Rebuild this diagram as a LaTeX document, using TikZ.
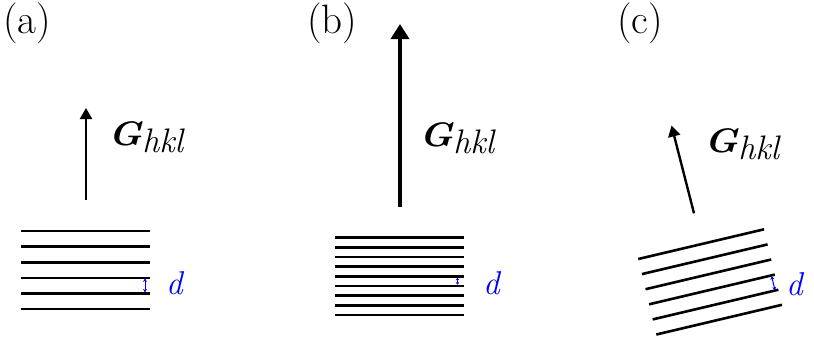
\documentclass[tikz,border=0pt]{standalone}
\usetikzlibrary{arrows.meta}
\tikzset{
  panellabel/.style={anchor=base west,inner sep=0pt,font=\fontsize{41}{41}\selectfont},
  glabel/.style={anchor=base west,inner sep=0pt,font=\fontsize{34}{34}\selectfont},
  dlabel/.style={anchor=base west,inner sep=0pt,text=blue,font=\fontsize{33}{33}\selectfont\itshape},
  plane/.style={line width=2.6pt},
  gvec/.style={line width=2.4pt,-{Triangle[length=11pt,width=12pt]}},
  gvecbig/.style={line width=3.6pt,-{Triangle[length=15pt,width=18pt]}},
  dvec/.style={blue,line width=1pt,{Stealth[length=3.5pt,width=4pt]}-{Stealth[length=3.5pt,width=4pt]}}
}
\newcommand{\Ghkl}{\scalebox{1.12}[1]{\bfseries\itshape G}\raisebox{-7pt}{\itshape hkl}}
\begin{document}
\begin{tikzpicture}[x=1pt,y=-1pt]
\useasboundingbox (0,0) rectangle (814,341);
% panel labels
\node[panellabel] (la) at (3,33) {(a)};
\node[panellabel] (lb) at (307,33) {(b)};
\node[panellabel] (lc) at (617,33) {(c)};
% ---------- (a)
\foreach \i in {0,...,5}{
  \draw[plane] (21,{231+15.6*\i}) -- (150,{231+15.6*\i});
}
\coordinate (a0) at (86,200);
\coordinate (a1) at (86,108);
\draw[gvec] (a0) -- (a1);
\node[glabel] (ga) at (108,145) {\Ghkl};
\coordinate (ad0) at (145,278.4);
\coordinate (ad1) at (145,292.4);
\draw[dvec] (ad0) -- (ad1);
\node[dlabel] (da) at (166,294) {d};
% ---------- (b)
\foreach \i in {0,...,8}{
  \draw[plane] (335,{237.7+9.67*\i}) -- (464,{237.7+9.67*\i});
}
\coordinate (b0) at (400,207);
\coordinate (b1) at (400,24);
\draw[gvecbig] (b0) -- (b1);
\node[glabel] (gb) at (419,146.5) {\Ghkl};
\coordinate (bd0) at (457.5,277.6);
\coordinate (bd1) at (457.5,284.7);
\draw[dvec,{Stealth[length=2.5pt,width=3.5pt]}-{Stealth[length=2.5pt,width=3.5pt]}] (bd0) -- (bd1);
\node[dlabel] (db) at (483,294) {d};
% ---------- (c)
\foreach \i in {0,...,5}{
  \draw[plane] ({638.3+3.6*\i},{259+15.1*\i}) -- ({764+3.6*\i},{229.3+15.1*\i});
}
\coordinate (c0) at (694,213.3);
\coordinate (c1) at (671.5,125.5);
\draw[gvec] (c0) -- (c1);
\node[glabel] (gc) at (704,152.5) {\Ghkl};
\coordinate (cd0) at (771.6,276.2);
\coordinate (cd1) at (775.0,290.3);
\draw[dvec] (cd0) -- (cd1);
\node[dlabel] (dc) at (786,295) {d};
\end{tikzpicture}
\end{document}
